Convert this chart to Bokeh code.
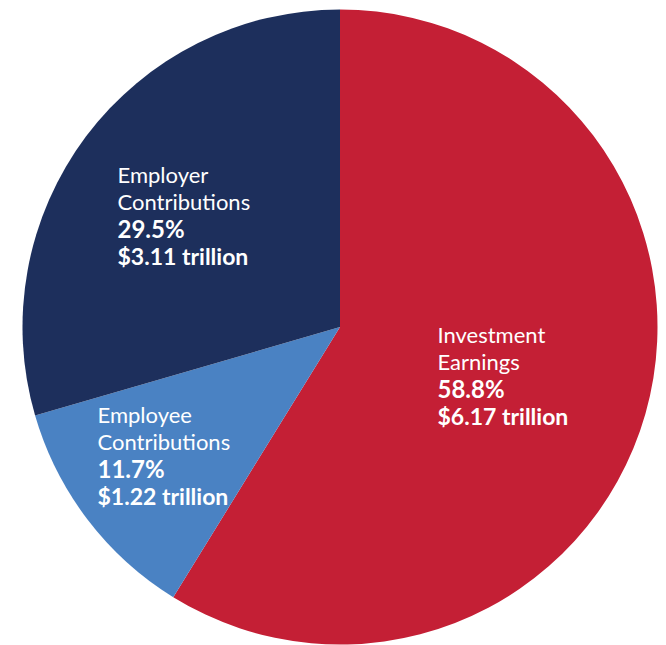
import math
from bokeh.plotting import figure
from bokeh.models import Range1d, ColumnDataSource
from bokeh.core.properties import value
from bokeh.embed import file_html
from bokeh.resources import INLINE

# data
categories = ["Investment Earnings", "Employee Contributions", "Employer Contributions"]
name_line1 = ["Investment", "Employee", "Employer"]
name_line2 = ["Earnings", "Contributions", "Contributions"]
percents = [58.8, 11.7, 29.5]
amounts = ["$6.17 trillion", "$1.22 trillion", "$3.11 trillion"]
colors = ["#C41F35", "#4A82C3", "#1D2F5C"]

# layout (pixel coordinates, y up)
W, H = 666, 645
cx, cy, R = 339.5, 318.5, 317.5
label_x = [437, 97, 117]           # left edge of each label block
label_y_top = [311, 231, 471]      # baseline of first line (y up)
line_gap = 27
font = "Lato"

p = figure(width=W, height=H, output_backend="svg", toolbar_location=None,
           x_range=Range1d(0, W), y_range=Range1d(0, H), min_border=0,
           outline_line_color=None)
p.axis.visible = False
p.grid.visible = False
p.background_fill_color = "white"

total = sum(percents)
starts, ends = [], []
cum = 0.0
for v in percents:
    starts.append(math.pi / 2 - cum / total * 2 * math.pi)
    cum += v
    ends.append(math.pi / 2 - cum / total * 2 * math.pi)

src = ColumnDataSource(dict(start=starts, end=ends, color=colors))
p.wedge(x=cx, y=cy, radius=R, start_angle="start", end_angle="end",
        direction="clock", fill_color="color", line_color=None, source=src)

for i in range(len(categories)):
    x0 = label_x[i]
    y0 = label_y_top[i]
    lines = [(name_line1[i], "normal", "22px"), (name_line2[i], "normal", "22px"),
             (f"{percents[i]:.1f}%", "bold", "24px"), (amounts[i], "bold", "23px")]
    for k, (t, style, fs) in enumerate(lines):
        p.text(x=[x0], y=[y0 - k * line_gap], text=[t],
               text_font=value(font), text_font_size=fs,
               text_font_style=style, text_color="white",
               text_align="left", text_baseline="alphabetic")

open("out.html", "w").write(file_html(p, INLINE))
